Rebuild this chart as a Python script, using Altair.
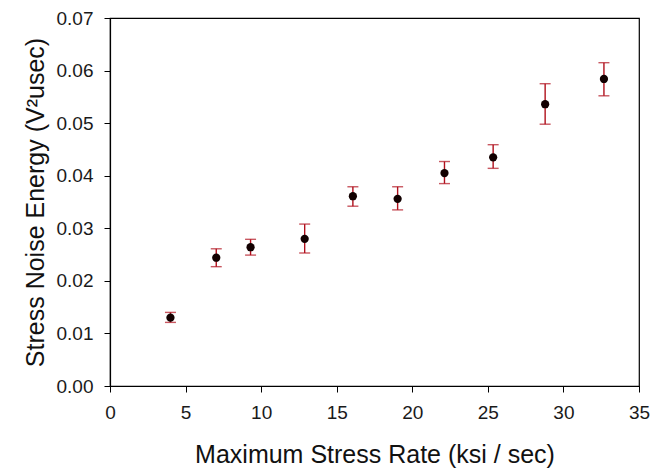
import altair as alt
import pandas as pd

rate = [4.0, 7.03, 9.3, 12.88, 16.07, 19.03, 22.13, 25.35, 28.79, 32.68]
energy = [0.0130, 0.0244, 0.0264, 0.0280, 0.0361, 0.0356, 0.0405, 0.0435, 0.0536, 0.0584]
err_hi = [0.0140, 0.0261, 0.0279, 0.0308, 0.0379, 0.0379, 0.0427, 0.0459, 0.0575, 0.0615]
err_lo = [0.0121, 0.0227, 0.0249, 0.0253, 0.0342, 0.0335, 0.0385, 0.0414, 0.0498, 0.0552]

df = pd.DataFrame({"rate": rate, "energy": energy, "hi": err_hi, "lo": err_lo})

FONT = "Liberation Sans"
ERR = "#b0101c"

x = alt.X("rate:Q", scale=alt.Scale(domain=[0, 35], nice=False),
          axis=alt.Axis(values=list(range(0, 36, 5)), title="Maximum Stress Rate (ksi / sec)"))
y_scale = alt.Scale(domain=[0, 0.07], nice=False)
y_axis = alt.Axis(values=[i / 100 for i in range(8)], format=".2f",
                  title="Stress Noise Energy (V²usec)")

base = alt.Chart(df)
rules = base.mark_rule(color=ERR, strokeWidth=1.4).encode(
    x=x, y=alt.Y("lo:Q", scale=y_scale, axis=y_axis), y2="hi:Q")
cap_hi = base.mark_tick(color=ERR, orient="horizontal", size=11, thickness=1.4).encode(
    x="rate:Q", y="hi:Q")
cap_lo = base.mark_tick(color=ERR, orient="horizontal", size=11, thickness=1.4).encode(
    x="rate:Q", y="lo:Q")
pts = base.mark_circle(color="#120000", opacity=1, size=68).encode(
    x="rate:Q", y="energy:Q")

chart = (rules + cap_hi + cap_lo + pts).properties(
    width=529, height=368,
    autosize=alt.AutoSizeParams(type="none"),
    padding={"left": 110, "top": 18, "right": 23, "bottom": 84},
).configure_view(stroke="black", strokeWidth=1.2).configure_axis(
    grid=False, domainColor="black", domainWidth=1.2, tickColor="black", tickSize=6,
    labelFont=FONT, labelFontSize=19, labelColor="#1a1a1a", labelPadding=11,
    titleFont=FONT, titleFontSize=25, titleFontWeight="normal", titleColor="#111",
).configure_axisX(titlePadding=20, labelFlush=False).configure_axisY(titlePadding=8, labelFlush=False)

chart.save("out.html", embed_options={"renderer": "svg", "actions": False})
